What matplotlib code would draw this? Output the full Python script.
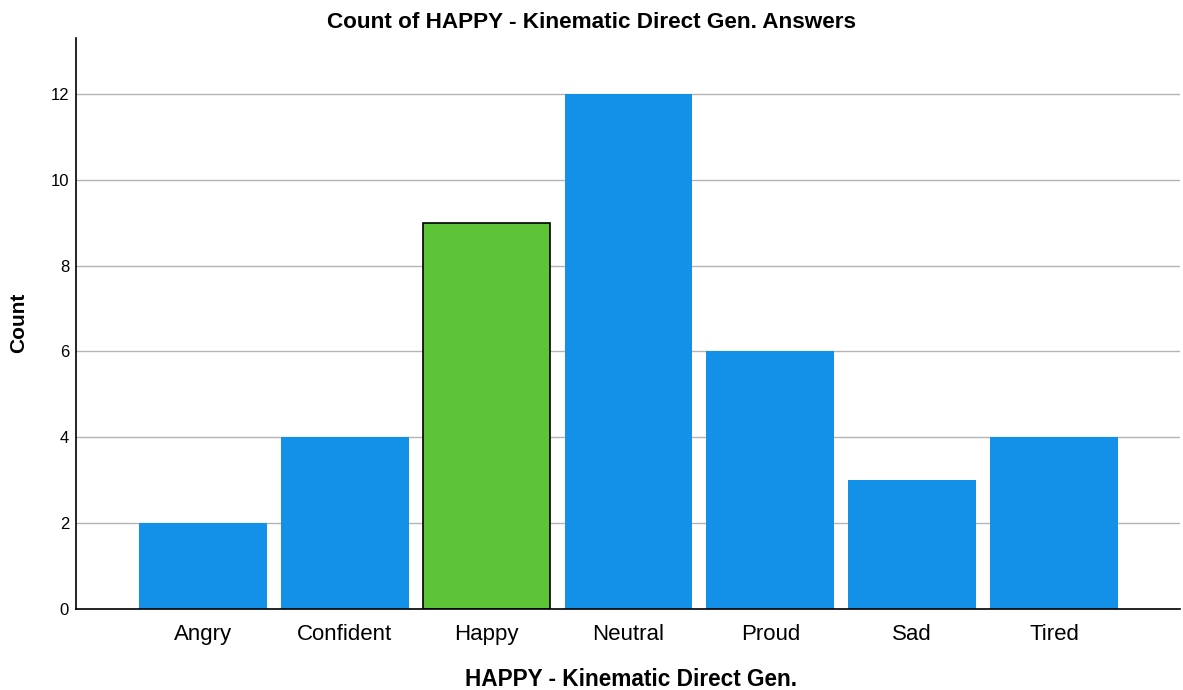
import numpy as np
import matplotlib.pyplot as plt

plt.rcParams['font.family'] = ['Liberation Sans', 'DejaVu Sans']

categories = ["Angry", "Confident", "Happy", "Neutral", "Proud", "Sad", "Tired"]
counts = [2, 4, 9, 12, 6, 3, 4]
highlight = "Happy"

blue = "#1391e8"
green = "#5ec437"

fig = plt.figure(figsize=(11.83, 6.90), dpi=100)
ax = fig.add_axes([0.0642, 0.1174, 0.9333, 0.8275])

x = np.arange(len(categories))
colors = [green if c == highlight else blue for c in categories]
edges = ["black" if c == highlight else "none" for c in categories]
ax.bar(x, counts, width=0.9, color=colors, edgecolor=edges, linewidth=1.2, zorder=2)

ax.set_xlim(-0.896, 6.889)
ax.set_ylim(0, 13.3)
ax.set_yticks(range(0, 13, 2))
ax.yaxis.grid(True, color="#b4b4b4", linewidth=1, zorder=0)
ax.set_axisbelow(True)

ax.set_xticks(x)
ax.set_xticklabels(categories, fontsize=16)
ax.tick_params(axis="y", labelsize=12, length=0, pad=5)
ax.tick_params(axis="x", length=0, pad=11)

for s in ["top", "right"]:
    ax.spines[s].set_visible(False)
ax.spines["left"].set_linewidth(1.2)
ax.spines["bottom"].set_linewidth(1.2)

fig.text(0.5, 1 - 22 / 690, "Count of HAPPY - Kinematic Direct Gen. Answers", fontsize=16.2,
         fontweight="bold", ha="center", va="center")
fig.text(631 / 1183, 1 - 679 / 690, "HAPPY - Kinematic Direct Gen.", fontsize=16.3,
         fontweight="bold", ha="center", va="center")
fig.text(18.5 / 1183, 1 - 323 / 690, "Count", fontsize=15, fontweight="bold",
         ha="center", va="center", rotation=90)

fig.savefig("out.png", dpi=100)
